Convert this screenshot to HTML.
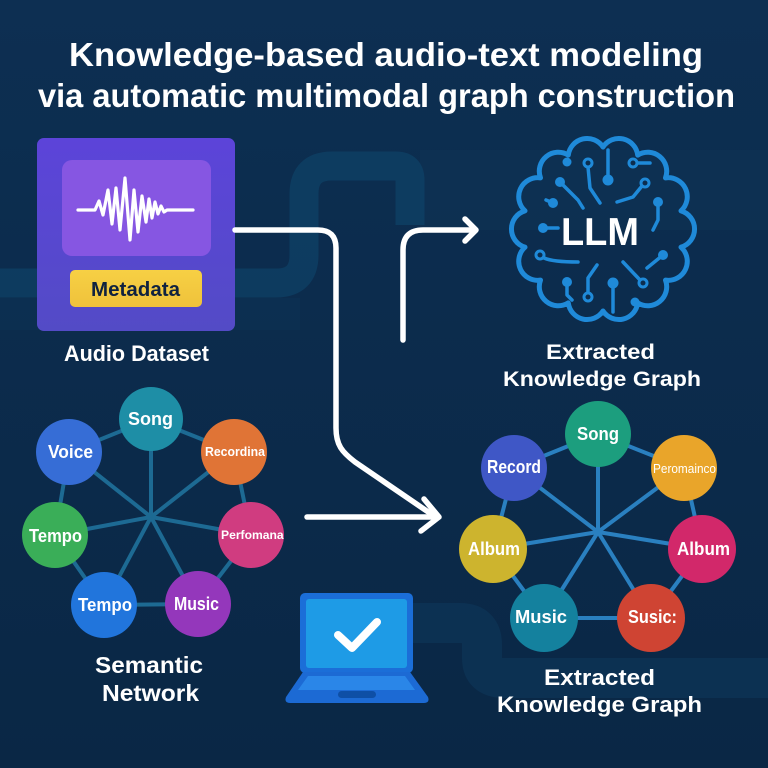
<!DOCTYPE html>
<html>
<head>
<meta charset="utf-8">
<style>
html,body{margin:0;padding:0;background:#0b2c4c;}
svg{display:block;}
text{font-family:"Liberation Sans",Arial,sans-serif;fill:#fff;}
</style>
</head>
<body>
<svg width="768" height="768" viewBox="0 0 768 768" xmlns="http://www.w3.org/2000/svg">
<defs>
<linearGradient id="bg" x1="0" y1="0" x2="0" y2="1">
<stop offset="0" stop-color="#0d2f52"/>
<stop offset="1" stop-color="#0a2745"/>
</linearGradient>
<linearGradient id="box" x1="0" y1="0" x2="0" y2="1">
<stop offset="0" stop-color="#5c44d9"/>
<stop offset="1" stop-color="#534bc6"/>
</linearGradient>
<linearGradient id="pill" x1="0" y1="0" x2="0" y2="1">
<stop offset="0" stop-color="#f7d044"/>
<stop offset="1" stop-color="#efc23b"/>
</linearGradient>
<clipPath id="cperf"><circle cx="251" cy="535" r="33"/></clipPath>
</defs>

<!-- background -->
<rect width="768" height="768" fill="url(#bg)"/>
<rect x="420" y="150" width="348" height="80" fill="#0e3458" opacity="0.4"/>
<path d="M0,283 H276 Q304,283 304,255 V194 Q304,166 332,166 H396 Q410,166 410,180 V225" fill="none" stroke="#0f4870" stroke-width="29" opacity="0.55"/>
<rect x="0" y="298" width="300" height="32" fill="#0d3658" opacity="0.35"/>
<path d="M413,623 H460 Q482,623 482,645 V658 Q482,678 504,678 H768" fill="none" stroke="#0d3a5e" stroke-width="40" opacity="0.5"/>

<!-- title -->
<text x="69" y="66" font-size="33" font-weight="bold" textLength="634" lengthAdjust="spacingAndGlyphs">Knowledge-based audio-text modeling</text>
<text x="38" y="107" font-size="33" font-weight="bold" textLength="697" lengthAdjust="spacingAndGlyphs">via automatic multimodal graph construction</text>

<!-- audio dataset box -->
<rect x="37" y="138" width="198" height="193" rx="7" fill="url(#box)"/>
<rect x="62" y="160" width="149" height="96" rx="10" fill="#8656e2"/>
<polyline points="78,210 95,210 99,201 103,215 108,190 112,224 116,188 120,230 125,178 130,240 134,190 138,232 142,196 146,222 149,199 152,218 155,202 158,214 161,206 164,212 167,210 193,210" fill="none" stroke="#fff" stroke-width="3.2" stroke-linejoin="round" stroke-linecap="round"/>
<rect x="70" y="270" width="132" height="37" rx="5" fill="url(#pill)"/>
<text x="91" y="296" font-size="20" font-weight="bold" style="fill:#10223f" textLength="89" lengthAdjust="spacingAndGlyphs">Metadata</text>
<text x="64" y="361" font-size="22" font-weight="bold" textLength="145" lengthAdjust="spacingAndGlyphs">Audio Dataset</text>

<!-- arrows -->
<g fill="none" stroke="#fff" stroke-width="5.5" stroke-linecap="round" stroke-linejoin="round">
<path d="M235,230 H318 Q336,230 336,248 V428 C336,445 342,452 355,462 L437,518"/>
<path d="M307,517 H437"/>
<polyline points="424,499 439,517 421,531"/>
<path d="M403,340 V250 Q403,230 423,230 H475"/>
<polyline points="465,219 476,230 465,241"/>
</g>

<!-- brain -->
<g fill="none" stroke="#1f8ad9" stroke-width="5" stroke-linejoin="round">
<path d="M603,147 A19,19 0 0 1 637.7,155.1 A19,19 0 0 1 665.5,177.9 A19,19 0 0 1 681,210.8 A19,19 0 0 1 681,247.2 A19,19 0 0 1 665.5,280.1 A19,19 0 0 1 637.7,302.9 A19,19 0 0 1 603,311 A19,19 0 0 1 568.3,302.9 A19,19 0 0 1 540.5,280.1 A19,19 0 0 1 525,247.2 A19,19 0 0 1 525,210.8 A19,19 0 0 1 540.5,177.9 A19,19 0 0 1 568.3,155.1 A19,19 0 0 1 603,147 Z"/>
</g>
<g fill="none" stroke="#1f8ad9" stroke-width="3.5" stroke-linecap="round" stroke-linejoin="round">
<path d="M608,150 V178"/>
<path d="M588,167 L590,188 L600,203"/>
<path d="M560,182 L578,200 L583,208"/>
<path d="M543,228 H558"/>
<path d="M544,258 Q553,262 578,262"/>
<path d="M567,282 V295 L572,300"/>
<path d="M588,293 V278 L597,265"/>
<path d="M613,283 V312"/>
<path d="M640,280 L623,262"/>
<path d="M663,255 L647,268"/>
<path d="M658,202 V220 L653,230"/>
<path d="M642,186 L633,197 L617,202"/>
<path d="M637,163 H650"/>
<path d="M553,203 L546,200"/>
</g>
<g fill="#1f8ad9">
<circle cx="608" cy="180" r="5.5"/>
<circle cx="567" cy="162" r="4.5"/>
<circle cx="560" cy="182" r="5"/>
<circle cx="553" cy="203" r="5"/>
<circle cx="543" cy="228" r="5"/>
<circle cx="567" cy="282" r="5"/>
<circle cx="613" cy="283" r="5.5"/>
<circle cx="635" cy="302" r="4.5"/>
<circle cx="663" cy="255" r="5"/>
<circle cx="658" cy="202" r="5"/>
</g>
<g fill="#0c2d4e" stroke="#1f8ad9" stroke-width="3">
<circle cx="588" cy="163" r="4"/>
<circle cx="540" cy="255" r="4"/>
<circle cx="588" cy="297" r="4"/>
<circle cx="643" cy="283" r="4"/>
<circle cx="645" cy="183" r="4"/>
<circle cx="633" cy="163" r="4"/>
</g>
<text x="561" y="245" font-size="39" font-weight="bold" textLength="78" lengthAdjust="spacingAndGlyphs">LLM</text>
<text x="546" y="359" font-size="21" font-weight="bold" textLength="109" lengthAdjust="spacingAndGlyphs">Extracted</text>
<text x="503" y="386" font-size="21" font-weight="bold" textLength="198" lengthAdjust="spacingAndGlyphs">Knowledge Graph</text>

<!-- left semantic network -->
<g stroke="#1d6a93" stroke-width="4">
<line x1="151" y1="517" x2="151" y2="419"/>
<line x1="151" y1="517" x2="234" y2="452"/>
<line x1="151" y1="517" x2="251" y2="535"/>
<line x1="151" y1="517" x2="198" y2="604"/>
<line x1="151" y1="517" x2="104" y2="605"/>
<line x1="151" y1="517" x2="55" y2="535"/>
<line x1="151" y1="517" x2="69" y2="452"/>
<polyline fill="none" points="151,419 234,452 251,535 198,604 104,605 55,535 69,452 151,419"/>
</g>
<circle cx="151" cy="419" r="32" fill="#1e8ea6"/>
<circle cx="234" cy="452" r="33" fill="#e07436"/>
<circle cx="251" cy="535" r="33" fill="#d03c80"/>
<circle cx="198" cy="604" r="33" fill="#9437bb"/>
<circle cx="104" cy="605" r="33" fill="#2175dc"/>
<circle cx="55" cy="535" r="33" fill="#3aae58"/>
<circle cx="69" cy="452" r="33" fill="#366dd6"/>
<g font-weight="bold">
<text x="128" y="425" font-size="18" textLength="45" lengthAdjust="spacingAndGlyphs">Song</text>
<text x="48" y="458" font-size="18" textLength="45" lengthAdjust="spacingAndGlyphs">Voice</text>
<text x="205" y="456" font-size="13" textLength="60" lengthAdjust="spacingAndGlyphs">Recordina</text>
<text x="221" y="539" font-size="12" textLength="66" lengthAdjust="spacingAndGlyphs" clip-path="url(#cperf)">Perfomanai</text>
<text x="29" y="542" font-size="18" textLength="53" lengthAdjust="spacingAndGlyphs">Tempo</text>
<text x="78" y="611" font-size="18" textLength="54" lengthAdjust="spacingAndGlyphs">Tempo</text>
<text x="174" y="610" font-size="18" textLength="45" lengthAdjust="spacingAndGlyphs">Music</text>
</g>
<text x="95" y="673" font-size="23" font-weight="bold" textLength="108" lengthAdjust="spacingAndGlyphs">Semantic</text>
<text x="102" y="701" font-size="23" font-weight="bold" textLength="97" lengthAdjust="spacingAndGlyphs">Network</text>

<!-- right knowledge graph -->
<g stroke="#2a80c0" stroke-width="4">
<line x1="598" y1="532" x2="598" y2="434"/>
<line x1="598" y1="532" x2="514" y2="468"/>
<line x1="598" y1="532" x2="684" y2="468"/>
<line x1="598" y1="532" x2="702" y2="549"/>
<line x1="598" y1="532" x2="651" y2="618"/>
<line x1="598" y1="532" x2="544" y2="618"/>
<line x1="598" y1="532" x2="493" y2="549"/>
<polyline fill="none" points="598,434 684,468 702,549 651,618 544,618 493,549 514,468 598,434"/>
</g>
<circle cx="598" cy="434" r="33" fill="#1c9e7e"/>
<circle cx="514" cy="468" r="33" fill="#3f57c6"/>
<circle cx="684" cy="468" r="33" fill="#e9a52a"/>
<circle cx="702" cy="549" r="34" fill="#d2286a"/>
<circle cx="651" cy="618" r="34" fill="#cf4433"/>
<circle cx="544" cy="618" r="34" fill="#14819e"/>
<circle cx="493" cy="549" r="34" fill="#cdb42e"/>
<g font-weight="bold">
<text x="577" y="440" font-size="18" textLength="42" lengthAdjust="spacingAndGlyphs">Song</text>
<text x="487" y="473" font-size="18" textLength="54" lengthAdjust="spacingAndGlyphs">Record</text>
<text x="653" y="473" font-size="13" font-weight="normal" textLength="63" lengthAdjust="spacingAndGlyphs">Peromainco</text>
<text x="677" y="555" font-size="18" textLength="53" lengthAdjust="spacingAndGlyphs">Album</text>
<text x="468" y="555" font-size="18" textLength="52" lengthAdjust="spacingAndGlyphs">Album</text>
<text x="515" y="623" font-size="18" textLength="52" lengthAdjust="spacingAndGlyphs">Music</text>
<text x="628" y="623" font-size="18" textLength="49" lengthAdjust="spacingAndGlyphs">Susic:</text>
</g>
<text x="544" y="685" font-size="22" font-weight="bold" textLength="111" lengthAdjust="spacingAndGlyphs">Extracted</text>
<text x="497" y="712" font-size="22" font-weight="bold" textLength="205" lengthAdjust="spacingAndGlyphs">Knowledge Graph</text>

<!-- laptop -->
<rect x="300" y="593" width="113" height="80" rx="5" fill="#1b6ed8"/>
<rect x="306" y="599" width="101" height="69" rx="3" fill="#1e9be6"/>
<path d="M303,672 H410 L428,697 Q430,703 424,703 H290 Q284,703 286,697 Z" fill="#1c6ad4"/>
<path d="M308,676 H405 L415,690 H298 Z" fill="#2a86e8"/>
<rect x="338" y="691" width="38" height="7" rx="3.5" fill="#0e4fa6"/>
<polyline points="338,635 352,648 377,622" fill="none" stroke="#fff" stroke-width="8" stroke-linecap="round" stroke-linejoin="round"/>
</svg>
</body>
</html>
